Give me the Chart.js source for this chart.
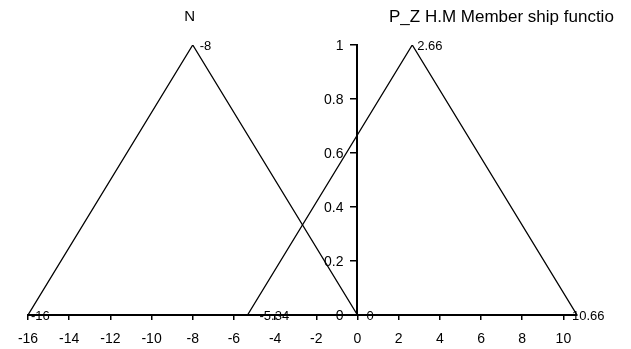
<!DOCTYPE html>
<html>
<head>
<meta charset="utf-8">
<script src="https://cdn.jsdelivr.net/npm/chart.js@4.4.1/dist/chart.umd.min.js"></script>
<style>
  html, body { margin: 0; padding: 0; background: #fff; }
  #wrap { width: 631px; height: 349px; }
</style>
</head>
<body>
<div id="wrap"><canvas id="mfChart" width="631" height="349"></canvas></div>
<script>
// triangular membership functions
const nX = [-16, -8, 0];
const nY = [0, 1, 0];
const pX = [-5.34, 2.66, 10.66];
const pY = [0, 1, 0];

const xTicks = [-16, -14, -12, -10, -8, -6, -4, -2, 0, 2, 4, 6, 8, 10];
const yTicks = [0, 0.2, 0.4, 0.6, 0.8, 1];

// horizontal nudge of each corner label, per dataset
const labelShift = [[3, 7, 9], [12, 5, -5]];

const FONT = "'Liberation Sans', Arial, sans-serif";

function toPoints(xs, ys) {
    return xs.map((x, i) => ({ x: x, y: ys[i] }));
}

// y tick labels (drawn beside the axis at x = 0), corner values and captions
const annotate = {
    id: 'annotate',
    afterDatasetsDraw(chart) {
        const ctx = chart.ctx;
        const xs = chart.scales.x;
        const ys = chart.scales.y;
        const axisX = xs.getPixelForValue(0);
        ctx.save();
        ctx.fillStyle = '#000';

        ctx.font = '14px ' + FONT;
        ctx.textAlign = 'right';
        ctx.textBaseline = 'middle';
        ys.ticks.forEach(t => {
            ctx.fillText(String(t.value), axisX - 14, ys.getPixelForValue(t.value) + 1);
        });

        ctx.font = '13px ' + FONT;
        ctx.textAlign = 'left';
        chart.data.datasets.forEach((ds, d) => {
            ds.data.forEach((p, i) => {
                const px = xs.getPixelForValue(p.x);
                const py = ys.getPixelForValue(p.y);
                ctx.fillText(String(p.x), px + labelShift[d][i], py + 1);
            });
        });

        ctx.font = '15px ' + FONT;
        ctx.textAlign = 'center';
        ctx.fillText('N', xs.getPixelForValue(-8) - 3, 17);
        ctx.textAlign = 'left';
        ctx.font = '17px ' + FONT;
        ctx.fillText('P_Z H.M Member ship functio', 389, 17);
        ctx.restore();
    }
};

new Chart(document.getElementById('mfChart'), {
    type: 'scatter',
    data: {
        datasets: [
            { label: 'N', data: toPoints(nX, nY) },
            { label: 'P_Z', data: toPoints(pX, pY) }
        ]
    },
    options: {
        responsive: false,
        animation: false,
        showLine: true,
        layout: { padding: { left: 28, right: 54, top: 45, bottom: 0 } },
        elements: {
            line: { borderColor: '#000', borderWidth: 1.3, tension: 0 },
            point: { radius: 0 }
        },
        plugins: {
            legend: { display: false },
            tooltip: { enabled: false }
        },
        scales: {
            x: {
                type: 'linear',
                min: -16,
                max: 10.66,
                position: 'bottom',
                afterBuildTicks: s => { s.ticks = xTicks.map(v => ({ value: v })); },
                afterFit: s => { s.height = 34; },
                border: { display: true, color: '#000', width: 2 },
                grid: { drawOnChartArea: false, drawTicks: true, tickLength: 5, color: '#000', lineWidth: 1.5 },
                ticks: { color: '#000', font: { family: FONT, size: 14 }, padding: 11, maxRotation: 0, autoSkip: false }
            },
            y: {
                type: 'linear',
                min: 0,
                max: 1,
                position: { x: 0 },
                afterBuildTicks: s => { s.ticks = yTicks.map(v => ({ value: v })); },
                border: { display: true, color: '#000', width: 2 },
                grid: { drawOnChartArea: false, drawTicks: true, tickLength: 6, color: '#000', lineWidth: 1.5 },
                ticks: { display: false }
            }
        }
    },
    plugins: [annotate]
});
</script>
</body>
</html>
